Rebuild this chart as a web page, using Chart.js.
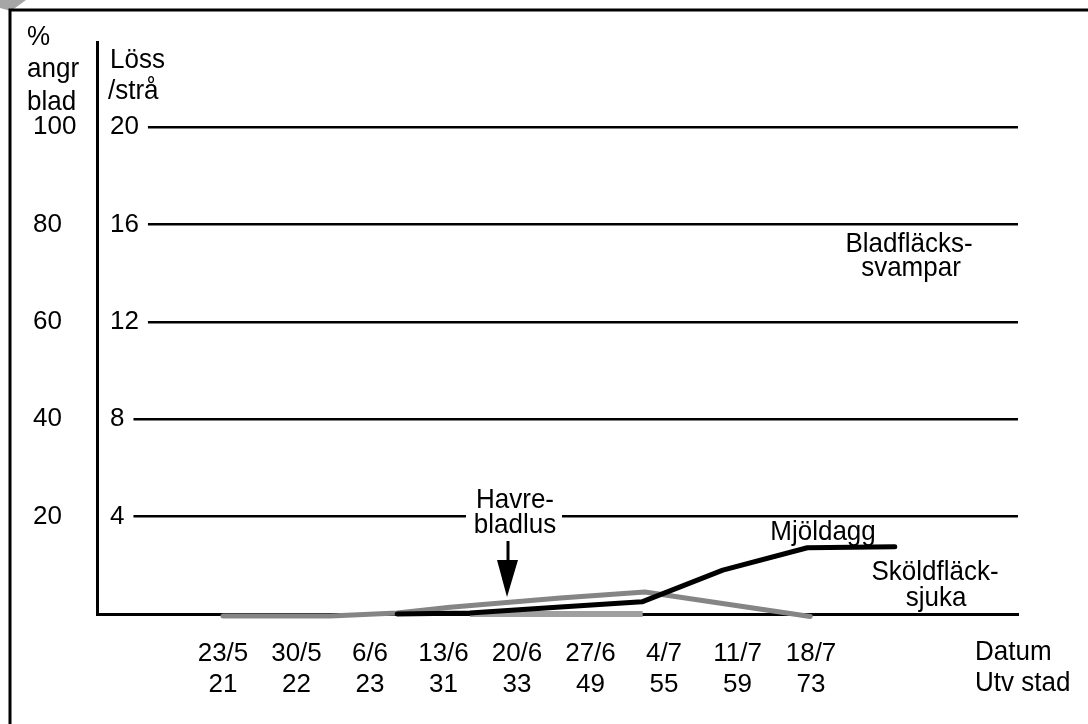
<!DOCTYPE html>
<html lang="sv">
<head>
    <meta charset="UTF-8">
    <title>Mjöldagg, sköldfläcksjuka och havrebladlus</title>
    <script src="https://cdn.jsdelivr.net/npm/chart.js"></script>
    <style>
        html, body {
            margin: 0;
            padding: 0;
            background: #fff;
        }
        .chart-container {
            position: relative;
            width: 1088px;
            height: 724px;
        }
    </style>
</head>
<body>
    <div class="chart-container">
        <canvas id="angreppChart"></canvas>
    </div>

<script>
// Datum och utvecklingsstadier (x-axeln)
const datum = ['23/5', '30/5', '6/6', '13/6', '20/6', '27/6', '4/7', '11/7', '18/7'];
const utvStad = ['21', '22', '23', '31', '33', '49', '55', '59', '73'];

// Skalstreck: % angripna blad och löss per strå
const procentTicks = [20, 40, 60, 80, 100];
const lossTicks = [4, 8, 12, 16, 20];

// Mjöldagg (% angr blad), x = läge räknat i veckor från 23/5
const mjoldaggX = [2.37, 3.36, 4.54, 5.70, 6.80, 7.95, 9.14];
const mjoldaggY = [0, 0.2, 1.4, 2.5, 9.0, 13.6, 13.8];

// Sköldfläcksjuka (% angr blad)
const skoldX = [0, 1.46, 2.37, 3.09, 4.59, 5.74, 7.99];
const skoldY = [-0.4, -0.4, 0.2, 1.4, 3.3, 4.5, -0.5];

// Havrebladlus (löss/strå)
const bladlusX = [3.36, 5.71];
const bladlusY = [0, 0];

const FONT = '"Liberation Sans", Arial, Helvetica, sans-serif';

const toPoints = (xs, ys) => xs.map((x, i) => ({ x: x, y: ys[i] }));

// Ram runt figuren och det vikta hörnet
const ramPlugin = {
    id: 'ram',
    beforeDraw(chart) {
        const ctx = chart.ctx;
        ctx.save();
        ctx.fillStyle = '#fff';
        ctx.fillRect(0, 0, chart.width, chart.height);

        ctx.fillStyle = '#a6a6a6';
        ctx.beginPath();
        ctx.moveTo(0, 0);
        ctx.lineTo(26, 0);
        ctx.lineTo(11, 11);
        ctx.lineTo(0, 8);
        ctx.closePath();
        ctx.fill();

        ctx.strokeStyle = '#000';
        ctx.lineWidth = 3;
        ctx.beginPath();
        ctx.moveTo(10, chart.height);
        ctx.lineTo(10, 10);
        ctx.lineTo(chart.width, 10);
        ctx.stroke();
        ctx.restore();
    }
};

// Axeltitlar och etiketter vid kurvorna
const texterPlugin = {
    id: 'texter',
    afterDraw(chart) {
        const ctx = chart.ctx;
        ctx.save();
        ctx.font = '26px ' + FONT;
        ctx.fillStyle = '#000';
        ctx.textBaseline = 'alphabetic';

        // texten i originalet är något högre än bred
        const text = (s, x, y, align) => {
            ctx.save();
            ctx.textAlign = align;
            ctx.translate(x, y);
            ctx.scale(1, 1.08);
            ctx.fillText(s, 0, 0);
            ctx.restore();
        };

        text('%', 27, 45, 'left');
        text('angr', 27, 77, 'left');
        text('blad', 27, 110, 'left');
        text('Löss', 110, 68, 'left');
        text('/strå', 108, 99, 'left');

        text('Bladfläcks-', 909, 252, 'center');
        text('svampar', 911, 276, 'center');

        ctx.fillStyle = '#fff';
        ctx.fillRect(466, 484, 96, 54);
        ctx.fillStyle = '#000';
        text('Havre-', 515, 508, 'center');
        text('bladlus', 515, 533, 'center');

        // pil mot bladluskurvan
        ctx.strokeStyle = '#000';
        ctx.lineWidth = 3;
        ctx.beginPath();
        ctx.moveTo(508, 541);
        ctx.lineTo(508, 562);
        ctx.stroke();
        ctx.beginPath();
        ctx.moveTo(497, 560);
        ctx.lineTo(518, 560);
        ctx.lineTo(507, 597);
        ctx.closePath();
        ctx.fill();

        text('Mjöldagg', 823, 540, 'center');
        text('Sköldfläck-', 935, 580, 'center');
        text('sjuka', 936, 606, 'center');

        text('Datum', 975, 660, 'left');
        text('Utv stad', 975, 691, 'left');
        ctx.restore();
    }
};

const ctx = document.getElementById('angreppChart').getContext('2d');
Chart.defaults.font.family = FONT;
Chart.defaults.font.size = 26;
Chart.defaults.color = '#000';

const angreppChart = new Chart(ctx, {
    type: 'line',
    data: {
        datasets: [
            {
                label: 'Mjöldagg',
                data: toPoints(mjoldaggX, mjoldaggY),
                borderColor: '#000',
                borderWidth: 5,
                yAxisID: 'y',
                order: 0
            },
            {
                label: 'Sköldfläcksjuka',
                data: toPoints(skoldX, skoldY),
                borderColor: '#858585',
                borderWidth: 5,
                yAxisID: 'y',
                order: 1
            },
            {
                label: 'Havrebladlus',
                data: toPoints(bladlusX, bladlusY),
                borderColor: '#a0a0a0',
                borderWidth: 6,
                borderCapStyle: 'butt',
                yAxisID: 'y1',
                order: 2
            }
        ]
    },
    options: {
        responsive: true,
        maintainAspectRatio: false,
        animation: false,
        clip: false,
        elements: {
            point: { radius: 0 },
            line: { tension: 0, fill: false, borderCapStyle: 'round', borderJoinStyle: 'round' }
        },
        layout: {
            padding: { left: 33, top: 42, right: 70, bottom: 0 }
        },
        plugins: {
            legend: { display: false },
            tooltip: { enabled: false }
        },
        scales: {
            x: {
                type: 'linear',
                position: 'bottom',
                min: -1.714,
                max: 10.816,
                afterBuildTicks: (scale) => {
                    scale.ticks = datum.map((_, i) => ({ value: i }));
                },
                afterFit: (scale) => { scale.height = 110; },
                grid: { display: false },
                border: { display: true, color: '#000', width: 3 },
                ticks: {
                    padding: 16,
                    autoSkip: false,
                    maxRotation: 0,
                    font: { size: 26, lineHeight: 1.2 },
                    callback: (value, index) => [datum[index], utvStad[index]]
                }
            },
            y: {
                position: 'left',
                weight: 1,
                min: 0,
                max: 117.45,
                afterBuildTicks: (scale) => {
                    scale.ticks = procentTicks.map(v => ({ value: v }));
                },
                afterFit: (scale) => { scale.width = 64; },
                grid: { display: false },
                border: { display: false },
                ticks: {
                    crossAlign: 'far',
                    padding: 0,
                    font: { size: 26 }
                }
            },
            y1: {
                position: 'left',
                weight: 0,
                min: 0,
                max: 23.49,
                afterBuildTicks: (scale) => {
                    scale.ticks = lossTicks.map(v => ({ value: v }));
                },
                afterFit: (scale) => { scale.width = 0; },
                grid: { color: '#000', lineWidth: 2.5, drawTicks: false },
                border: { display: true, color: '#000', width: 3 },
                ticks: {
                    mirror: true,
                    padding: 13,
                    font: { size: 26 },
                    showLabelBackdrop: true,
                    backdropColor: '#fff',
                    backdropPadding: { left: 11, right: 9, top: 0, bottom: 0 }
                }
            }
        }
    },
    plugins: [ramPlugin, texterPlugin]
});
</script>
</body>
</html>
